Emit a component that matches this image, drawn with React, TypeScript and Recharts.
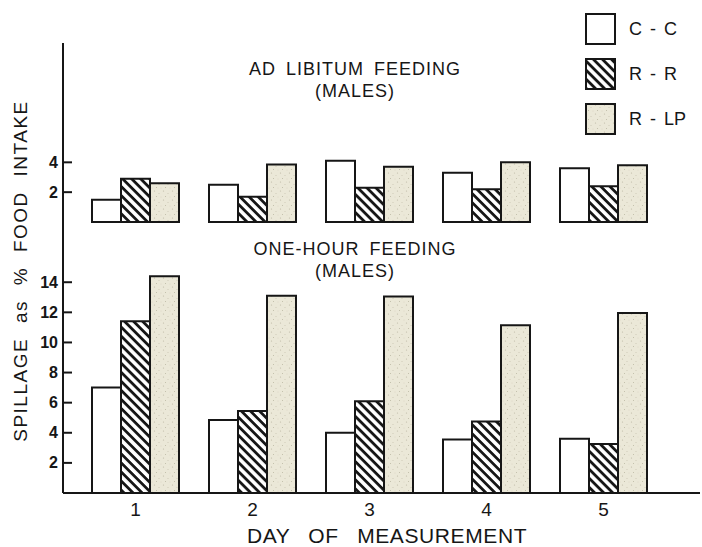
import { BarChart, Bar, XAxis, YAxis, Legend } from 'recharts'

const days = ['1', '2', '3', '4', '5']
const groups = ['C - C', 'R - R', 'R - LP']

// ad libitum feeding (top panel)
const adLibCC = [1.5, 2.5, 4.1, 3.3, 3.6]
const adLibRR = [2.9, 1.7, 2.3, 2.2, 2.4]
const adLibRLP = [2.6, 3.85, 3.7, 4.0, 3.8]

// one-hour feeding (bottom panel)
const oneHourCC = [7.0, 4.85, 4.0, 3.55, 3.6]
const oneHourRR = [11.4, 5.45, 6.1, 4.75, 3.25]
const oneHourRLP = [14.4, 13.1, 13.05, 11.15, 11.95]

const topTicks = [2, 4]
const bottomTicks = [2, 4, 6, 8, 10, 12, 14]

const adLibData = days.map((d, i) => ({ day: d, cc: adLibCC[i], rr: adLibRR[i], rlp: adLibRLP[i] }))
const oneHourData = days.map((d, i) => ({ day: d, cc: oneHourCC[i], rr: oneHourRR[i], rlp: oneHourRLP[i] }))

const FONT = '"Liberation Sans", Arial, sans-serif'
const INK = '#161616'
const fills = ['#ffffff', 'url(#hatch)', 'url(#stipple)']

const YTick = (props: any) => {
  const { x, y, payload } = props
  return (
    <g>
      <line x1={x} x2={x + 9} y1={y} y2={y} stroke={INK} strokeWidth={2} />
      <text x={x - 5} y={y} textAnchor="end" dominantBaseline="central"
        fontFamily={FONT} fontSize={16} fontWeight="bold" fill={INK}>
        {payload.value}
      </text>
    </g>
  )
}

const LegendBox = () => (
  <div style={{ fontFamily: FONT }}>
    {groups.map((g, i) => (
      <div key={g} style={{ display: 'flex', alignItems: 'center', height: 45 }}>
        <svg width={32} height={33}>
          <rect x={1} y={1} width={29} height={30} fill={fills[i]} stroke={INK} strokeWidth={2} />
        </svg>
        <span style={{ marginLeft: 12, fontSize: 18, color: INK, wordSpacing: 3, whiteSpace: 'pre' }}>{g}</span>
      </div>
    ))}
  </div>
)

const title: React.CSSProperties = {
  position: 'absolute', left: 355, transform: 'translate(-50%, -50%)',
  fontFamily: FONT, fontSize: 18, color: INK, letterSpacing: 1, wordSpacing: 4, whiteSpace: 'nowrap',
}

export default function App() {
  return (
    <div style={{ position: 'absolute', left: 0, top: 0, width: 702, height: 547, background: '#fff', overflow: 'hidden' }}>
      <svg width={0} height={0} style={{ position: 'absolute' }}>
        <defs>
          <pattern id="hatch" patternUnits="userSpaceOnUse" width={6.4} height={6.4} patternTransform="rotate(45)">
            <rect width={6.4} height={6.4} fill="#ffffff" />
            <rect width={6.4} height={2.8} fill={INK} />
          </pattern>
          <pattern id="stipple" patternUnits="userSpaceOnUse" width={9} height={9}>
            <rect width={9} height={9} fill="#ebe8d8" />
            <circle cx={1.5} cy={2} r={0.6} fill="#bdb9a5" />
            <circle cx={6} cy={4.5} r={0.5} fill="#c6c2ae" />
            <circle cx={3.5} cy={7.5} r={0.5} fill="#b8b49f" />
            <circle cx={8} cy={8} r={0.4} fill="#cbc7b4" />
          </pattern>
        </defs>
      </svg>

      <div style={{ position: 'absolute', left: 0, top: 0 }}>
        <BarChart width={702} height={230} data={adLibData} barGap={0} barSize={29}
          margin={{ top: 43, right: 2, bottom: 8, left: 0 }}>
          <XAxis dataKey="day" height={0} tick={false} tickLine={false}
            axisLine={{ stroke: INK, strokeWidth: 2 }} padding={{ left: 14, right: 38 }} />
          <YAxis width={63} domain={[0, 12]} ticks={topTicks} tick={<YTick />} tickLine={false}
            tickSize={0} tickMargin={0} axisLine={{ stroke: INK, strokeWidth: 2 }} />
          <Legend layout="vertical" align="center" verticalAlign="middle"
            wrapperStyle={{ top: 7, left: 585, width: 115 }} content={<LegendBox />} />
          <Bar dataKey="cc" name="C - C" fill={fills[0]} stroke={INK} strokeWidth={2} isAnimationActive={false} />
          <Bar dataKey="rr" name="R - R" fill={fills[1]} stroke={INK} strokeWidth={2} isAnimationActive={false} />
          <Bar dataKey="rlp" name="R - LP" fill={fills[2]} stroke={INK} strokeWidth={2} isAnimationActive={false} />
        </BarChart>
      </div>

      <div style={{ position: 'absolute', left: 0, top: 222 }}>
        <BarChart width={702} height={325} data={oneHourData} barGap={0} barSize={29}
          margin={{ top: 0, right: 2, bottom: 0, left: 0 }}>
          <XAxis dataKey="day" height={54} tickLine={false} tickSize={0} tickMargin={10}
            tick={{ fontFamily: FONT, fontSize: 19, fill: INK }}
            axisLine={{ stroke: INK, strokeWidth: 2 }} padding={{ left: 14, right: 38 }} />
          <YAxis width={63} domain={[0, 18]} ticks={bottomTicks} tick={<YTick />} tickLine={false}
            tickSize={0} tickMargin={0} axisLine={{ stroke: INK, strokeWidth: 2 }} />
          <Bar dataKey="cc" name="C - C" fill={fills[0]} stroke={INK} strokeWidth={2} isAnimationActive={false} />
          <Bar dataKey="rr" name="R - R" fill={fills[1]} stroke={INK} strokeWidth={2} isAnimationActive={false} />
          <Bar dataKey="rlp" name="R - LP" fill={fills[2]} stroke={INK} strokeWidth={2} isAnimationActive={false} />
        </BarChart>
      </div>

      <div style={{ ...title, top: 69 }}>AD LIBITUM FEEDING</div>
      <div style={{ ...title, top: 91 }}>(MALES)</div>
      <div style={{ ...title, top: 249 }}>ONE-HOUR FEEDING</div>
      <div style={{ ...title, top: 271 }}>(MALES)</div>

      <div style={{
        position: 'absolute', left: 21, top: 271, transform: 'translate(-50%, -50%) rotate(-90deg)',
        fontFamily: FONT, fontSize: 19, color: INK, letterSpacing: 1.5, wordSpacing: 8, whiteSpace: 'nowrap',
      }}>
        SPILLAGE as % FOOD INTAKE
      </div>

      <div style={{
        position: 'absolute', left: 387, top: 536, transform: 'translate(-50%, -50%)',
        fontFamily: FONT, fontSize: 21, color: INK, letterSpacing: 0.6, wordSpacing: 12, whiteSpace: 'nowrap',
      }}>
        DAY OF MEASUREMENT
      </div>
    </div>
  )
}
